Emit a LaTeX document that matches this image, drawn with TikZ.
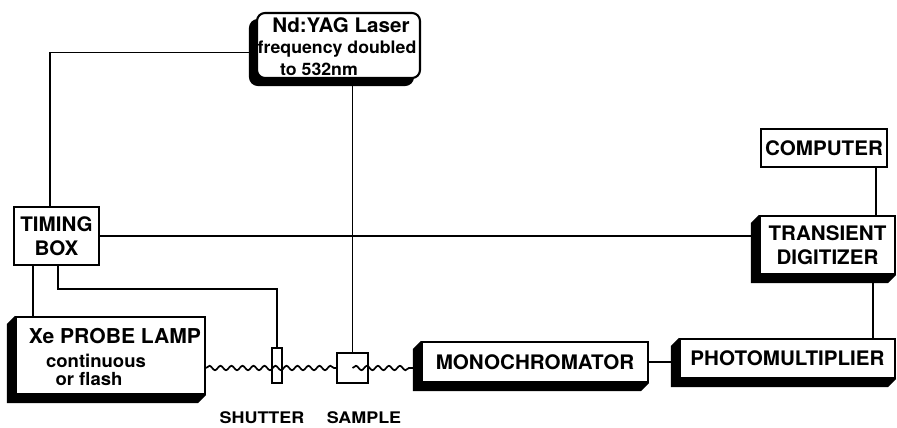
\documentclass[tikz,border=0pt]{standalone}
\usepackage{fontspec}
\newfontfamily\hv[FakeStretch=1.03]{TeX Gyre Heros}
\newfontfamily\hvw[FakeStretch=1.12]{TeX Gyre Heros}
\usetikzlibrary{calc,decorations.pathmorphing}
\tikzset{
  box/.style={draw, fill=white, line width=2.1pt, inner sep=0pt, align=center,
    font=\hv\bfseries\fontsize{20}{24}\selectfont},
  txt/.style={inner sep=0pt, font=\hv\bfseries\fontsize{20}{24}\selectfont},
  smalltxt/.style={inner sep=0pt, font=\hv\bfseries\fontsize{17.2}{20}\selectfont},
  lbl/.style={inner sep=0pt, font=\hvw\bfseries\fontsize{16}{18}\selectfont},
  conn/.style={line width=1.9pt},
  wavy/.style={line width=1.7pt, decorate, decoration={snake, segment length=11pt, amplitude=2.2pt}},
  smallbox/.style={draw, line width=1.9pt, inner sep=0pt}
}
\newcommand\boxshadow[1]{\fill (#1.north west) -- ++(-8,8) -- ($(#1.south west)+(-8,8)$) -- ($(#1.south east)+(-8,8)$) -- (#1.south east) -- (#1.south west) -- cycle;}
\begin{document}
\begin{tikzpicture}[x=1pt,y=-1pt]
\useasboundingbox (0,0) rectangle (897,428);
% laser with its shadow
\node[fill=black, draw, line width=2.1pt, rounded corners=8pt, minimum width=163pt, minimum height=65pt, inner sep=0pt] (lasersh) at (331.5,52.5) {};
\node[box, rounded corners=8pt, minimum width=163pt, minimum height=65pt] (laser) at (338.5,45.5) {};
\node[txt] (l1) at (341,25) {Nd:YAG Laser};
\node[smalltxt] (l2) at (337,49) {frequency doubled};
\node[smalltxt] (l3) at (319,69) {to 532nm};
% boxes
\node[box, minimum width=85pt, minimum height=58pt] (timing) at (56.5,236) {TIMING\\BOX};
\node[box, minimum width=126pt, minimum height=38pt] (comp) at (824,148) {COMPUTER};
\node[box, minimum width=135pt, minimum height=58pt] (dig) at (827.5,245) {TRANSIENT\\DIGITIZER};
\node[box, minimum width=215pt, minimum height=39pt] (pm) at (787.5,358.5) {PHOTOMULTIPLIER};
\node[box, minimum width=226pt, minimum height=40pt] (mono) at (535,362) {MONOCHROMATOR};
\node[box, minimum width=189pt, minimum height=77pt] (lamp) at (110.5,355.5) {};
\node[txt, font=\hv\bfseries\fontsize{20.5}{24}\selectfont] (x1) at (115,336) {Xe PROBE LAMP};
\node[smalltxt, font=\hv\bfseries\fontsize{18}{20}\selectfont] (x2) at (96,361) {continuous};
\node[smalltxt, font=\hv\bfseries\fontsize{18}{20}\selectfont] (x3) at (89,379) {or flash};
\node[smallbox, minimum width=10pt, minimum height=35pt] (shutter) at (277,365.5) {};
\node[smallbox, minimum width=31pt, minimum height=30pt] (sample) at (352.5,368) {};
\node[lbl] (shl) at (262,418) {SHUTTER};
\node[lbl] (sal) at (364,418) {SAMPLE};
% connectors
\coordinate (tA) at ($(timing.north west)+(37,0)$);
\coordinate (tB) at ($(timing.south west)+(20,0)$);
\coordinate (tC) at ($(timing.south west)+(45,0)$);
\draw[conn] (tA) |- (lasersh.west);
\draw[conn] (timing.east) -- (timing.east -| dig.west);
\draw[conn] (tB) -- (tB |- lamp.north);
\draw[conn] (tC) -- ++(0,23) -| (shutter.north);
\draw[conn] (sample.north |- lasersh.south) -- (sample.north);
\coordinate (cA) at ($(comp.south east)+(-12,0)$);
\draw[conn] (cA) -- (cA |- dig.north);
\coordinate (dA) at ($(dig.south east)+(-23,0)$);
\draw[conn] (dA) -- (dA |- pm.north);
\draw[conn] (mono.east) -- (mono.east -| pm.west);
% light path
\draw[wavy] (lamp.east |- sample.center) -- (sample.west);
\coordinate (mA) at ($(sample.center -| mono.west)+(-8,0)$);
\draw[wavy] (sample.center) -- (mA);
% shadows
\boxshadow{dig}
\boxshadow{pm}
\boxshadow{mono}
\boxshadow{lamp}
\end{tikzpicture}
\end{document}
